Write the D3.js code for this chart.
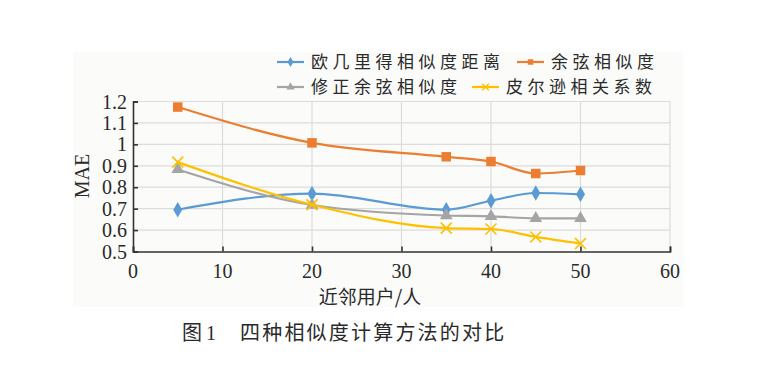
<html>
<head>
<script src="https://d3js.org/d3.v7.min.js"></script>
<style>
  body { margin: 0; background: #fff; }
  .tick-lbl { font-family: "Liberation Serif", "DejaVu Serif", serif; font-size: 20px; fill: #2a2a2a; }
  .cjk { font-family: "Noto Sans CJK SC", sans-serif; fill: #2a2a2a; }
</style>
</head>
<body>
<svg id="chart" width="773" height="378"></svg>
<script>
// data
const neighbours = [5, 20, 35, 40, 45, 50];
const euclid = [0.695, 0.77, 0.695, 0.737, 0.773, 0.767];
const cosine = [1.174, 1.007, 0.942, 0.92, 0.864, 0.878];
const adjCosine = [0.883, 0.717, 0.668, 0.664, 0.655, 0.655];
const pearson = [0.917, 0.718, 0.609, 0.605, 0.568, 0.537];
const seriesNames = ["欧几里得相似度距离", "余弦相似度", "修正余弦相似度", "皮尔逊相关系数"];
const seriesColors = ["#5b9bd5", "#ed7d31", "#a5a5a5", "#ffc000"];
const xTicks = [0, 10, 20, 30, 40, 50, 60];
const yTicks = [0.5, 0.6, 0.7, 0.8, 0.9, 1, 1.1, 1.2];

const svg = d3.select("#chart");
const margin = { left: 133, right: 670, top: 101.5, bottom: 251.5 };

// light panel behind the chart
svg.append("rect").attr("x", 73).attr("y", 52).attr("width", 610).attr("height", 255).attr("fill", "#fbfbfa");

const x = d3.scaleLinear().domain([0, 60]).range([margin.left, margin.right]);
const y = d3.scaleLinear().domain([0.5, 1.2]).range([margin.bottom, margin.top]);

// gridlines
svg.append("g").selectAll("line").data(yTicks.slice(1)).join("line")
  .attr("x1", margin.left).attr("x2", margin.right)
  .attr("y1", d => y(d)).attr("y2", d => y(d))
  .attr("stroke", "#dcdcdc").attr("stroke-width", 1.2);
svg.append("g").selectAll("line").data(xTicks.slice(1)).join("line")
  .attr("x1", d => x(d)).attr("x2", d => x(d))
  .attr("y1", margin.top).attr("y2", margin.bottom)
  .attr("stroke", "#dcdcdc").attr("stroke-width", 1.2);

// axes (ticks point inward)
const yAxis = svg.append("g").attr("transform", `translate(${margin.left},0)`)
  .call(d3.axisRight(y).tickValues(yTicks).tickSize(5).tickFormat(""));
const xAxis = svg.append("g").attr("transform", `translate(0,${margin.bottom})`)
  .call(d3.axisTop(x).tickValues(xTicks).tickSize(5).tickFormat(""));
[yAxis, xAxis].forEach(a => {
  a.selectAll("path").attr("stroke", "#333").attr("stroke-width", 1.6);
  a.selectAll("line").attr("stroke", "#333").attr("stroke-width", 1.6);
});

// tick labels
svg.append("g").selectAll("text").data(yTicks).join("text")
  .attr("class", "tick-lbl")
  .attr("x", 127).attr("y", d => y(d)).attr("dy", "0.35em")
  .attr("text-anchor", "end")
  .text(d => d);
svg.append("g").selectAll("text").data(xTicks).join("text")
  .attr("class", "tick-lbl")
  .attr("x", d => x(d)).attr("y", 278)
  .attr("text-anchor", "middle")
  .text(d => d);

// axis titles
svg.append("text").attr("class", "tick-lbl")
  .attr("transform", "translate(89,176) rotate(-90)")
  .attr("text-anchor", "middle").text("MAE");
svg.append("text").attr("class", "cjk")
  .attr("x", 370).attr("y", 304).attr("text-anchor", "middle")
  .style("font-size", "19px").text("近邻用户/人");

// lines and markers
const allValues = [euclid, cosine, adjCosine, pearson];
const line = d3.line().x(d => x(d[0])).y(d => y(d[1])).curve(d3.curveMonotoneX);
const symbols = [d3.symbolDiamond, d3.symbolSquare, d3.symbolTriangle, d3.symbolX];
const symSize = [70, 90, 70, 80];

allValues.forEach((vals, i) => {
  const pts = neighbours.map((n, j) => [n, vals[j]]);
  svg.append("path").datum(pts)
    .attr("d", line)
    .attr("fill", "none")
    .attr("stroke", seriesColors[i])
    .attr("stroke-width", 2.2);
  svg.append("g").selectAll("path").data(pts).join("path")
    .attr("transform", d => `translate(${x(d[0])},${y(d[1])})`)
    .attr("d", d3.symbol().type(symbols[i]).size(symSize[i]))
    .attr("fill", i === 3 ? "none" : seriesColors[i])
    .attr("stroke", seriesColors[i])
    .attr("stroke-width", i === 3 ? 1.6 : 0);
});

// legend
const legendPos = [[277, 62], [517, 62], [277, 87], [472, 87]];
legendPos.forEach((p, i) => {
  const g = svg.append("g").attr("transform", `translate(${p[0]},${p[1]})`);
  g.append("line").attr("x1", 0).attr("x2", 27).attr("y1", 0).attr("y2", 0)
    .attr("stroke", seriesColors[i]).attr("stroke-width", 2.2);
  g.append("path").attr("transform", "translate(13.5,0)")
    .attr("d", d3.symbol().type(symbols[i]).size(30))
    .attr("fill", i === 3 ? "none" : seriesColors[i])
    .attr("stroke", seriesColors[i])
    .attr("stroke-width", i === 3 ? 1.4 : 0);
  g.append("text").attr("class", "cjk")
    .attr("x", 34).attr("y", 0).attr("dy", "0.36em")
    .style("font-size", "17px").style("letter-spacing", "4.5px")
    .text(seriesNames[i]);
});

// caption
const cap = svg.append("text").attr("class", "cjk").attr("y", 340).style("font-size", "20px");
cap.append("tspan").attr("x", 182).text("图");
cap.append("tspan").attr("x", 206).style("font-family", "Liberation Serif, serif").text("1");
cap.append("tspan").attr("x", 240).style("letter-spacing", "2.2px").text("四种相似度计算方法的对比");
</script>
</body>
</html>
